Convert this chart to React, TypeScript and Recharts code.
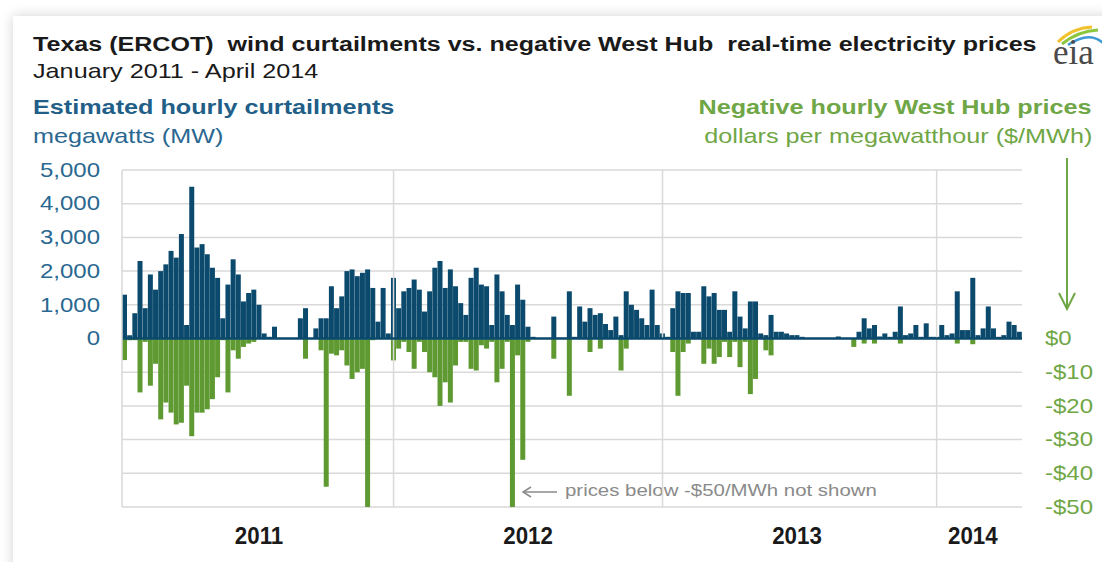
import React from "react";
import {
  ComposedChart,
  Bar,
  XAxis,
  YAxis,
  CartesianGrid,
  ReferenceLine,
} from "recharts";

// weekly peaks, Jan 2011 - Apr 2014
const curtail2011 = [
  1300, 100, 750, 2300, 900, 1900, 1450, 2000, 2200, 2600, 2400, 3100, 400,
  4500, 2700, 2800, 2500, 2100, 1800, 600, 1600, 2350, 1900, 1100, 1350, 1450,
  1000, 150, 50, 350, 0, 0, 0, 0, 600, 900, 0, 300, 600, 600, 1550, 900, 1250,
  2000, 2050, 1850, 1950, 2050, 1500, 500, 1500, 150,
];
const curtail2012 = [
  1800, 900, 1400, 1500, 1750, 1450, 800, 1400, 2100, 2300, 1500, 2050, 1550,
  1050, 700, 1800, 2100, 1600, 1550, 400, 1900, 1400, 700, 400, 1600, 1150,
  350, 50, 0, 0, 0, 650, 20, 20, 1400, 50, 950, 500, 900, 700, 750, 430, 250,
  650, 100, 1400, 1000, 850, 600, 400, 1450, 400,
];
const curtail2013 = [
  150, 50, 900, 1400, 1350, 1350, 200, 200, 1550, 1250, 1350, 850, 850, 200,
  1400, 650, 300, 1100, 1100, 150, 100, 700, 200, 200, 150, 100, 100, 50, 0, 0,
  0, 0, 0, 0, 60, 0, 0, 0, 200, 600, 300, 400, 60, 150, 50, 200, 950, 100, 150,
  400, 50, 450,
];
const curtail2014 = [
  50, 50, 400, 100, 150, 1400, 250, 250, 1800, 100, 300, 950, 300, 50, 100,
  500, 400, 200,
];

const price2011 = [
  -6.4, -0.5, -0.5, -16, -1, -14, -7.5, -24, -19, -22, -25.5, -25, -14, -29,
  -22, -22, -21, -18, -11.5, -0.5, -16, -3.5, -6, -2.5, -1.5, -1, 0, 0, 0, 0,
  0, 0, 0, 0, 0, -6, 0, 0, -3.5, -44, -4.5, -5, -3.5, -8, -12, -10, -9, -50,
  -0.5, 0, 0, 0,
];
const price2012 = [
  -6.5, -3, -1, -4, -9, -1, -4, -10, -11.5, -20, -13, -19, -8, -1, -1, -9,
  -9.5, -2, -3, -1, -13, -9, -1, -50, -5, -36, -1, 0, 0, 0, 0, -6, 0, 0, -17,
  0, 0, 0, -4, 0, -3, 0, 0, 0, -9.5, -3, 0, 0, 0, 0, 0, 0,
];
const price2013 = [
  0, 0, -4, -17, -4, -1.5, 0, 0, -7.5, -3, -7.5, -5.5, -1, -5.5, -1, -8.5, -1,
  -16.5, -12, 0, -3.5, -5, 0, 0, 0, 0, 0, 0, 0, 0, 0, 0, 0, 0, 0, 0, 0, -2.5,
  0, -1.5, 0, -1.5, 0, 0, 0, 0, -1.5, 0, 0, 0, 0, 0,
];
const price2014 = [0, 0, 0, 0, 0, -1.5, 0, 0, -1.7, 0, 0, 0, 0, 0, 0, 0, 0, 0];

const mwTicks = [0, 1000, 2000, 3000, 4000, 5000];
const priceTicks = [0, -10, -20, -30, -40, -50];
const gridValues = [-5000, -4000, -3000, -2000, -1000, 0, 1000, 2000, 3000, 4000, 5000];
const yearLabels = ["2011", "2012", "2013", "2014"];
const yearLabelWeeks = [26, 78, 130, 164];
const yearStartWeeks = [52, 104, 157];

const curtailments = [...curtail2011, ...curtail2012, ...curtail2013, ...curtail2014];
const prices = [...price2011, ...price2012, ...price2013, ...price2014];
const data = curtailments.map((mw, i) => ({ week: i, mw, price: prices[i] }));

const BLUE = "#0b4a6d";
const BLUE_TEXT = "#2a6891";
const GREEN = "#5e9a31";
const GREEN_TEXT = "#6fa646";
const GRID = "#d9d9d9";
const FONT = "'Liberation Sans', Arial, sans-serif";
const SX = 1.2; // the source image is stretched sideways
const BAR_W = 5;

const withCommas = (v: number) => String(v).replace(/\B(?=(\d{3})+(?!\d))/g, ",");
const dollars = (v: number) => (v === 0 ? "$0" : `-$${Math.abs(v)}`);

function MwTick({ x, y, payload }: any) {
  return (
    <text
      transform={`translate(${x},${y}) scale(${SX},1)`}
      textAnchor="end"
      dominantBaseline="central"
      fill={BLUE_TEXT}
      fontSize={20}
      fontFamily={FONT}
    >
      {withCommas(payload.value)}
    </text>
  );
}

function PriceTick({ x, y, payload }: any) {
  return (
    <text
      transform={`translate(${x},${y}) scale(${SX},1)`}
      textAnchor="start"
      dominantBaseline="central"
      fill={GREEN_TEXT}
      fontSize={20}
      fontFamily={FONT}
    >
      {dollars(payload.value)}
    </text>
  );
}

function YearTick({ x, y, payload }: any) {
  const label = yearLabels[yearLabelWeeks.indexOf(payload.value)];
  return (
    <text
      transform={`translate(${x},${y}) scale(0.93,1)`}
      textAnchor="middle"
      dy="0.71em"
      fill="#1a1a1a"
      fontSize={24}
      fontWeight="bold"
      fontFamily={FONT}
    >
      {label}
    </text>
  );
}

function Label({
  text,
  top,
  left,
  right,
  size = 21,
  bold = false,
  color = "#1a1a1a",
}: {
  text: string;
  top: number;
  left?: number;
  right?: number;
  size?: number;
  bold?: boolean;
  color?: string;
}) {
  return (
    <div
      style={{
        position: "absolute",
        top,
        left,
        right,
        fontSize: size,
        lineHeight: "24px",
        fontWeight: bold ? "bold" : "normal",
        color,
        whiteSpace: "pre",
        transform: `scaleX(${SX})`,
        transformOrigin: right !== undefined ? "right center" : "left center",
      }}
    >
      {text}
    </div>
  );
}

export default function App() {
  return (
    <div
      style={{
        position: "absolute",
        left: 0,
        top: 0,
        width: 1102,
        height: 562,
        overflow: "hidden",
        background: "#ffffff",
        fontFamily: FONT,
      }}
    >
      <div
        style={{
          position: "absolute",
          left: 13,
          top: 16,
          width: 1200,
          height: 600,
          background: "#ffffff",
          boxShadow: "0 0 12px rgba(0,0,0,0.18)",
        }}
      />

      <Label
        text="Texas (ERCOT)  wind curtailments vs. negative West Hub  real-time electricity prices"
        top={32}
        left={33}
        size={20.9}
        bold
      />
      <Label text="January 2011 - April 2014" top={59} left={33} />
      <Label text="Estimated hourly curtailments" top={95} left={33} bold color="#225f88" />
      <Label text="megawatts (MW)" top={124} left={33} color={BLUE_TEXT} />
      <Label text="Negative hourly West Hub prices" top={95} right={10} bold color={GREEN_TEXT} />
      <Label text="dollars per megawatthour ($/MWh)" top={124} right={10} color={GREEN_TEXT} />
      <Label text="prices below -$50/MWh not shown" top={479} left={565} size={17} color="#8a8a8a" />

      <svg
        width={1102}
        height={562}
        style={{ position: "absolute", left: 0, top: 0, pointerEvents: "none" }}
      >
        {/* eia logo */}
        <path d="M1058 42 Q1072 28 1092 27" stroke="#f2c12e" strokeWidth={3} fill="none" />
        <path d="M1062 44 Q1078 31 1098 30" stroke="#8cc63f" strokeWidth={3} fill="none" />
        <path d="M1068 45 Q1090 30 1104 44" stroke="#3d9ad6" strokeWidth={2.5} fill="none" />
        <text x={1053} y={64} fontSize={35} fontFamily="'Liberation Serif', serif" fill="#4a4a4a">
          eia
        </text>
        {/* price axis arrow */}
        <line x1={1067} y1={158} x2={1067} y2={309} stroke={GREEN_TEXT} strokeWidth={2} />
        <polyline points="1059,293 1067,309 1075,293" stroke={GREEN_TEXT} strokeWidth={2} fill="none" />
        {/* note arrow */}
        <line x1={523} y1={492} x2={557} y2={492} stroke="#8a8a8a" strokeWidth={1.5} />
        <polyline points="531,487 523,492 531,497" stroke="#8a8a8a" strokeWidth={1.5} fill="none" />
      </svg>

      <div style={{ position: "absolute", left: 0, top: 0 }}>
        <ComposedChart
          width={1102}
          height={562}
          data={data}
          margin={{ top: 170, right: 10, bottom: 15, left: 12 }}
          barGap={-BAR_W}
        >
          <CartesianGrid
            xAxisId="a"
            yAxisId="mw"
            vertical={false}
            horizontalValues={gridValues}
            stroke={GRID}
            strokeWidth={1.5}
          />
          <XAxis
            xAxisId="a"
            dataKey="week"
            ticks={yearLabelWeeks}
            interval={0}
            height={40}
            axisLine={false}
            tickLine={false}
            tickMargin={14}
            tick={<YearTick />}
          />
          <XAxis xAxisId="b" dataKey="week" hide />
          <YAxis
            yAxisId="mw"
            orientation="left"
            domain={[-5000, 5000]}
            ticks={mwTicks}
            width={110}
            axisLine={{ stroke: GRID, strokeWidth: 1.5 }}
            tickLine={false}
            tickMargin={16}
            tick={<MwTick />}
          />
          <YAxis
            yAxisId="price"
            orientation="right"
            domain={[-50, 50]}
            ticks={priceTicks}
            allowDataOverflow
            width={70}
            axisLine={false}
            tickLine={false}
            tickMargin={17}
            tick={<PriceTick />}
          />
          {yearStartWeeks.map((w) => (
            <ReferenceLine
              key={w}
              xAxisId="a"
              yAxisId="mw"
              x={w}
              stroke={GRID}
              strokeWidth={1.5}
            />
          ))}
          <Bar
            xAxisId="a"
            yAxisId="mw"
            dataKey="mw"
            fill={BLUE}
            barSize={BAR_W}
            isAnimationActive={false}
          />
          <Bar
            xAxisId="b"
            yAxisId="price"
            dataKey="price"
            fill={GREEN}
            barSize={BAR_W}
            isAnimationActive={false}
          />
          <ReferenceLine xAxisId="a" yAxisId="mw" y={0} stroke={BLUE} strokeWidth={2.5} />
        </ComposedChart>
      </div>
    </div>
  );
}
